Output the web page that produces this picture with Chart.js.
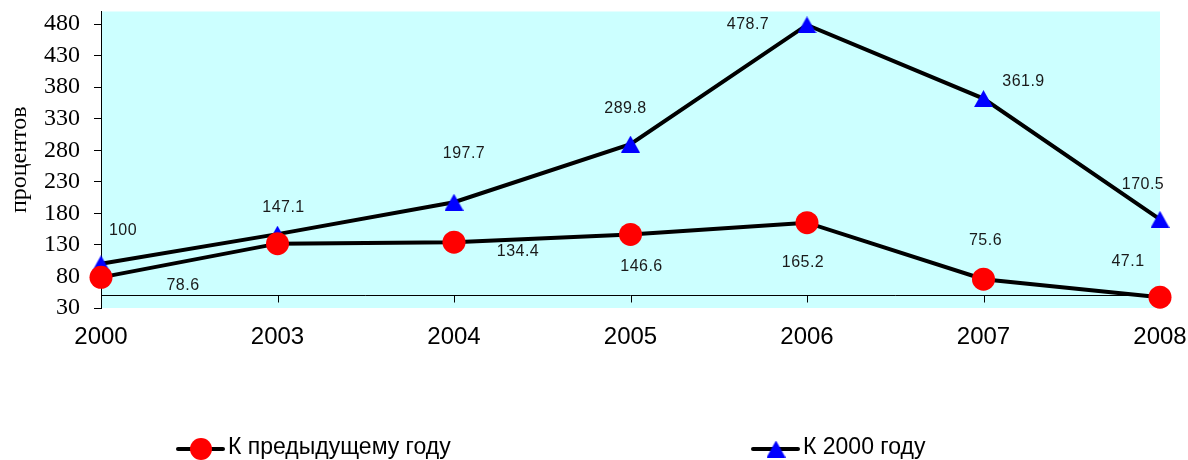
<!DOCTYPE html>
<html><head><meta charset="utf-8">
<script src="https://cdn.jsdelivr.net/npm/chart.js@4.4.0/dist/chart.umd.min.js"></script>
<style>html,body{margin:0;padding:0;background:#fff}#wrap{width:1188px;height:460px}</style>
</head><body><div id="wrap"><canvas id="c" width="1188" height="460"></canvas></div>
<script>
// ---- data ----
const categories = ['2000', '2003', '2004', '2005', '2006', '2007', '2008'];
const toPrevYear = [78.6, 132, 134.4, 146.6, 165.2, 75.6, 47.1];
const to2000 = [100, 147.1, 197.7, 289.8, 478.7, 361.9, 170.5];
const yTicks = [30, 80, 130, 180, 230, 280, 330, 380, 430, 480];
const seriesNames = ['К предыдущему году', 'К 2000 году'];
const yTitle = 'процентов';
const yMin = 30, yMax = 500, xAxisCross = 50;

// ---- layout-only: label offsets relative to points (px) ----
const labelOffsets = [
  [[82, 8], null, [64, 9], [11, 32], [-4, 40], [2, -39], [-32, -36]],
  [[22, -33], [6, -27], [10, -49], [-5, -36], [-59, 0], [40, -17], [-17, -35]]
];

function triangleImg(w, h, color) {
  const c = document.createElement('canvas');
  c.width = w; c.height = h;
  const g = c.getContext('2d');
  g.fillStyle = color;
  g.beginPath(); g.moveTo(w / 2, 0); g.lineTo(w, h); g.lineTo(0, h); g.closePath(); g.fill();
  return c;
}
const tri = triangleImg(19, 17, '#0000FF');

const bgPlugin = {
  id: 'bg',
  beforeDraw(chart) {
    const { ctx, chartArea: a } = chart;
    ctx.save(); ctx.fillStyle = '#CCFFFF';
    ctx.fillRect(a.left, a.top, a.right - a.left, a.bottom - a.top);
    ctx.restore();
  },
  beforeDatasetsDraw(chart) {
    const { ctx, chartArea: a, scales } = chart;
    const y = Math.round(scales.y.getPixelForValue(xAxisCross)) + 0.5;
    ctx.save(); ctx.strokeStyle = '#000'; ctx.lineWidth = 1;
    ctx.beginPath(); ctx.moveTo(a.left, y); ctx.lineTo(a.right, y);
    categories.forEach((c, i) => {
      const x = Math.round(scales.x.getPixelForValue(i)) + 0.5;
      ctx.moveTo(x, y); ctx.lineTo(x, y + 7);
    });
    ctx.stroke(); ctx.restore();
  }
};

const labelPlugin = {
  id: 'vlabels',
  afterDatasetsDraw(chart) {
    const { ctx } = chart;
    ctx.save();
    ctx.font = '16px "Liberation Sans"';
    try { ctx.letterSpacing = '0.5px'; } catch (e) {}
    ctx.fillStyle = '#1a1a1a'; ctx.textAlign = 'center'; ctx.textBaseline = 'middle';
    chart.data.datasets.forEach((ds, di) => {
      const meta = chart.getDatasetMeta(di);
      meta.data.forEach((pt, i) => {
        const off = labelOffsets[di][i];
        if (!off) return;
        ctx.fillText(String(ds.data[i]), pt.x + off[0], pt.y + off[1]);
      });
    });
    ctx.restore();
  }
};

const legendPlugin = {
  id: 'customLegend',
  afterDraw(chart) {
    const { ctx } = chart;
    const items = [{ x: 178 }, { x: 753 }];
    const y = 449;
    ctx.save();
    chart.data.datasets.forEach((ds, di) => {
      const x0 = items[di].x;
      ctx.strokeStyle = '#000'; ctx.lineWidth = 4; ctx.lineCap = 'round';
      ctx.beginPath(); ctx.moveTo(x0, y); ctx.lineTo(x0 + 45, y); ctx.stroke();
      const cx = x0 + 23;
      if (di === 0) {
        ctx.fillStyle = '#FF0000'; ctx.beginPath(); ctx.arc(cx, y, 11, 0, Math.PI * 2); ctx.fill();
      } else {
        ctx.drawImage(tri, cx - tri.width / 2, y - tri.height / 2);
      }
      ctx.fillStyle = '#000'; ctx.font = '23px "Liberation Sans"';
      ctx.textAlign = 'left'; ctx.textBaseline = 'middle';
      ctx.fillText(ds.label, x0 + 50, y - 1);
    });
    ctx.restore();
  }
};

new Chart(document.getElementById('c'), {
  type: 'line',
  data: {
    labels: categories,
    datasets: [
      { label: seriesNames[0], data: toPrevYear, borderColor: '#000', borderWidth: 4,
        pointStyle: 'circle', pointRadius: 11.5, pointBackgroundColor: '#FF0000', pointBorderWidth: 0,
        tension: 0, clip: false },
      { label: seriesNames[1], data: to2000, borderColor: '#000', borderWidth: 4,
        pointStyle: tri, pointRadius: 10, pointBackgroundColor: '#0000FF', pointBorderWidth: 0,
        tension: 0, clip: false }
    ]
  },
  options: {
    responsive: false,
    animation: false,
    devicePixelRatio: 1,
    layout: { padding: { top: 11, right: 28, left: 0, bottom: 0 } },
    plugins: { legend: { display: false }, tooltip: { enabled: false } },
    scales: {
      x: {
        type: 'category', offset: false,
        grid: { display: false }, border: { display: false },
        ticks: { color: '#000', font: { family: 'Liberation Sans', size: 24 }, padding: 7, maxRotation: 0, autoSkip: false },
        afterFit(s) { s.height = 152; s.paddingLeft = 0; s.paddingRight = 0; }
      },
      y: {
        min: yMin, max: yMax,
        afterBuildTicks(s) { s.ticks = yTicks.map(v => ({ value: v })); },
        grid: { drawOnChartArea: false, color: '#000', tickLength: 7, lineWidth: 1 },
        border: { color: '#000', width: 1 },
        ticks: { color: '#000', font: { family: 'Liberation Serif', size: 24 }, padding: 14 },
        title: { display: true, text: yTitle, color: '#000', font: { family: 'Liberation Serif', size: 24 }, padding: { top: 5, bottom: 0 } },
        afterFit(s) { s.width = 101; s.paddingTop = 0; s.paddingBottom = 0; }
      }
    }
  },
  plugins: [bgPlugin, labelPlugin, legendPlugin]
});
</script></body></html>
